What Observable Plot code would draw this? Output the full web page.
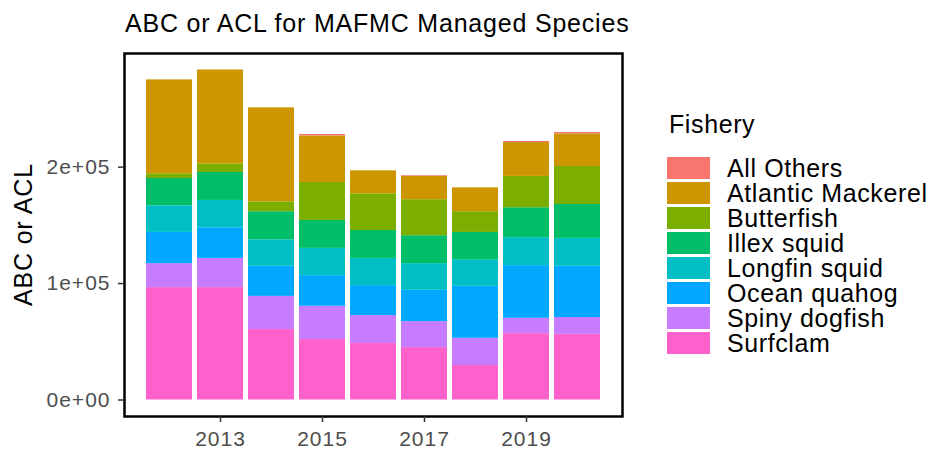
<!DOCTYPE html>
<html>
<head>
<meta charset="utf-8">
<script src="https://cdn.jsdelivr.net/npm/d3@7"></script>
<script src="https://cdn.jsdelivr.net/npm/@observablehq/plot@0.6"></script>
<style>
  html, body { margin: 0; padding: 0; background: #fff; }
  #chart svg { display: block; }
  #chart g[aria-label="y-axis tick"], #chart g[aria-label="x-axis tick"] { stroke: #333333; }
  #chart g[aria-label="y-axis tick label"] text, #chart g[aria-label="x-axis tick label"] text { fill: #4D4D4D; letter-spacing: 1px; }
</style>
</head>
<body>
<div id="chart"></div>
<script>
const years = [2012, 2013, 2014, 2015, 2016, 2017, 2018, 2019, 2020];
const categories = ["All Others", "Atlantic Mackerel", "Butterfish", "Illex squid", "Longfin squid", "Ocean quahog", "Spiny dogfish", "Surfclam"];
const colors = ["#F8766D", "#CD9600", "#7CAE00", "#00BE67", "#00BFC4", "#00A9FF", "#C77CFF", "#FF61CC"];

const allOthers        = [0, 0, 0, 1200, 0, 600, 0, 900, 1100];
const atlanticMackerel = [80600, 80600, 80700, 40000, 19700, 20000, 20500, 29100, 28100];
const butterfish       = [4100, 7400, 8500, 32600, 31500, 30900, 17800, 26900, 32600];
const illexSquid       = [23400, 24000, 24100, 24000, 24000, 24000, 23400, 25700, 29100];
const longfinSquid     = [22900, 23500, 22800, 23400, 23400, 22900, 22900, 24000, 24000];
const oceanQuahog      = [26800, 26300, 25800, 26300, 25700, 26900, 44600, 45200, 44000];
const spinyDogfish     = [20600, 25100, 28500, 28600, 24000, 22300, 23400, 13200, 14400];
const surfclam         = [96500, 96500, 60500, 51900, 48500, 45000, 29600, 57000, 56400];

const yTicks = [0, 100000, 200000];
const yTickLabels = ["0e+00", "1e+05", "2e+05"];
const xTicks = [2013, 2015, 2017, 2019];

const titleText = "ABC or ACL for MAFMC Managed Species";
const yTitle = "ABC or ACL";
const legendTitle = "Fishery";

const seriesByCat = {
  "All Others": allOthers,
  "Atlantic Mackerel": atlanticMackerel,
  "Butterfish": butterfish,
  "Illex squid": illexSquid,
  "Longfin squid": longfinSquid,
  "Ocean quahog": oceanQuahog,
  "Spiny dogfish": spinyDogfish,
  "Surfclam": surfclam
};

const data = [];
for (const c of [...categories].reverse()) {
  years.forEach((y, i) => data.push({year: y, fishery: c, value: seriesByCat[c][i]}));
}

const W = 930, H = 449;
const mL = 124, mR = 308, mT = 53, mB = 33;

const chart = Plot.plot({
  width: W, height: H,
  marginLeft: mL, marginRight: mR, marginTop: mT, marginBottom: mB,
  style: {fontFamily: "'Liberation Sans', Arial, sans-serif", background: "white", overflow: "visible"},
  x: {type: "band", domain: years, paddingInner: 0.1, paddingOuter: 0.43, label: null},
  y: {domain: [-14170, 297570], label: null},
  color: {domain: categories, range: colors},
  marks: [
    Plot.barY(data, {x: "year", y: "value", fill: "fishery"}),
    Plot.frame({stroke: "black", strokeWidth: 2.5}),
    Plot.axisY(yTicks, {tickFormat: d => yTickLabels[yTicks.indexOf(d)], tickSize: 6, tickPadding: 8, fontSize: 21, strokeWidth: 1.5, label: null}),
    Plot.axisX(xTicks, {tickFormat: d => String(d), tickSize: 6, tickPadding: 9, fontSize: 21, strokeWidth: 1.5, label: null})
  ]
});

document.getElementById("chart").appendChild(chart);

const svg = d3.select(chart);
const font = "'Liberation Sans', Arial, sans-serif";

svg.append("text")
  .attr("x", 125).attr("y", 32)
  .attr("text-anchor", "start")
  .attr("font-family", font).attr("font-size", 25)
  .style("letter-spacing", "0.8px")
  .attr("fill", "black")
  .text(titleText);

svg.append("text")
  .attr("transform", `translate(32, ${(mT + (H - mB)) / 2}) rotate(-90)`)
  .attr("text-anchor", "middle")
  .attr("font-family", font).attr("font-size", 25)
  .style("letter-spacing", "0.8px")
  .attr("fill", "black")
  .text(yTitle);

const color = chart.scale("color");
const lg = svg.append("g").attr("text-anchor", "start");
lg.append("text")
  .attr("x", 669).attr("y", 133)
  .attr("font-family", font).attr("font-size", 25)
  .style("letter-spacing", "0.6px")
  .attr("fill", "black")
  .text(legendTitle);

categories.forEach((c, i) => {
  const top = 157 + 25 * i;
  lg.append("rect")
    .attr("x", 667).attr("y", top).attr("width", 43).attr("height", 22)
    .attr("fill", color.apply(c));
  lg.append("text")
    .attr("x", 727).attr("y", top + 20)
    .attr("font-family", font).attr("font-size", 25)
    .style("letter-spacing", "0.6px")
    .attr("fill", "black")
    .text(c);
});
</script>
</body>
</html>
